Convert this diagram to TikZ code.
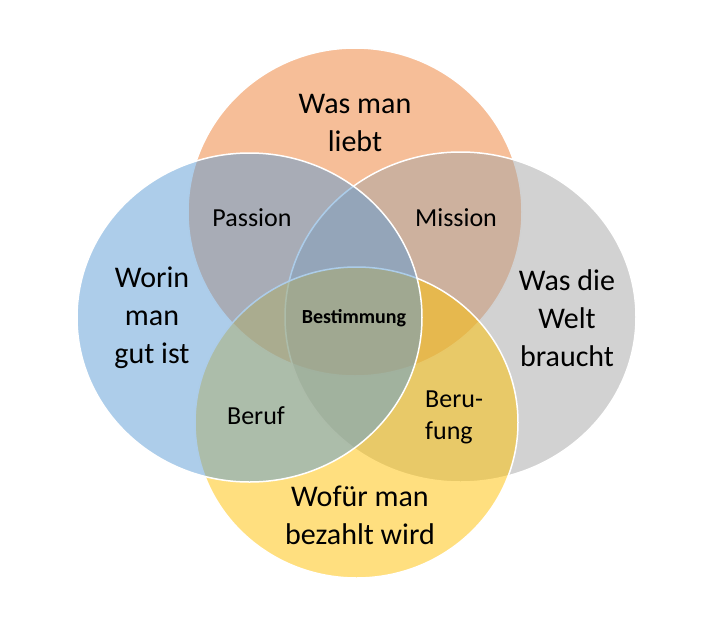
\documentclass[tikz,border=0pt]{standalone}
\usepackage{fontspec}
\setmainfont{Carlito}
\usetikzlibrary{shapes.geometric}
\definecolor{loveC}{HTML}{ED7D31}
\definecolor{goodC}{HTML}{5B9BD5}
\definecolor{worldC}{HTML}{A5A5A5}
\definecolor{paidC}{HTML}{FFC000}
\begin{document}
\begin{tikzpicture}[x=1pt, y=-1pt,
    venn/.style={ellipse, draw=white, line width=1.5pt, fill opacity=0.5, draw opacity=1, inner sep=0pt},
    big/.style={align=center, inner sep=0pt, font=\fontsize{30}{38}\selectfont},
    small/.style={align=center, inner sep=0pt, font=\fontsize{26}{32}\selectfont}]

    \useasboundingbox (0,0) rectangle (721,630);

    \node[venn, fill=loveC, minimum width=334pt, minimum height=328pt] (love) at (355,212) {};
    \node[venn, fill=worldC, minimum width=351pt, minimum height=330pt] (world) at (460.5,317) {};
    \node[venn, fill=paidC, minimum width=323pt, minimum height=311pt] (paid) at (356.5,422.5) {};
    \node[venn, fill=goodC, minimum width=345pt, minimum height=329pt] (good) at (249.5,317.5) {};

    \node[big] (lovetext) at (355,123) {Was man\\liebt};
    \node[big] (goodtext) at (152,318) {Worin\\man\\gut ist};
    \node[big] (worldtext) at (567,318) {Was die\\Welt\\braucht};
    \node[big] (paidtext) at (360,515) {Wofür man\\bezahlt wird};

    \node[small] (passion) at (252,218) {Passion};
    \node[small] (mission) at (456,218) {Mission};
    \node[small] (beruf) at (256,416) {Beruf};
    \node[small, align=left, anchor=west] (berufung) at (425,417) {Beru-\\fung};
    \node[inner sep=0pt, font=\fontsize{20}{24}\selectfont\bfseries] (bestimmung) at (354,318) {Bestimmung};
\end{tikzpicture}
\end{document}
